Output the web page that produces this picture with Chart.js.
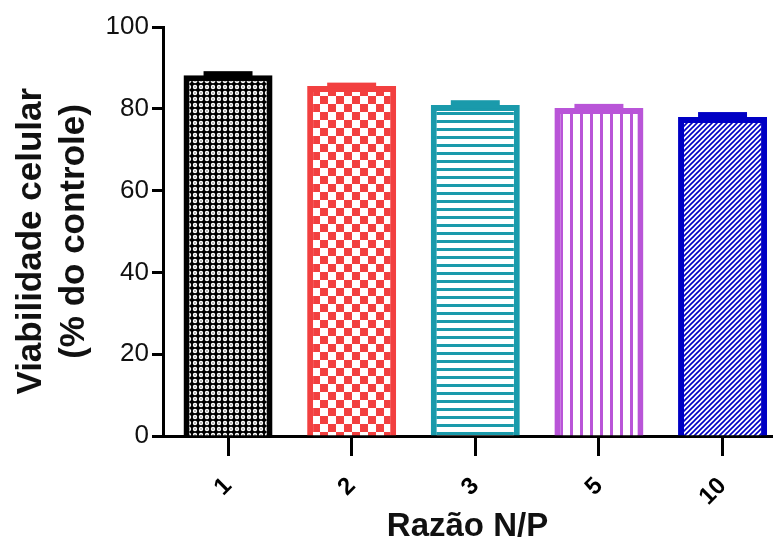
<!DOCTYPE html>
<html>
<head>
<meta charset="utf-8">
<script src="https://cdn.jsdelivr.net/npm/chart.js@4/dist/chart.umd.min.js"></script>
<style>
    body { margin: 0; background: #fff; }
    #wrap { width: 774px; height: 547px; }
</style>
</head>
<body>
<div id="wrap"><canvas id="bars" width="774" height="547"></canvas></div>
<script>
const categories = ['1', '2', '3', '5', '10']
const viability = [88.2, 85.6, 80.9, 80.2, 78.0]
const errors = [1.0, 0.8, 1.2, 1.0, 1.2]
const yTicks = [0, 20, 40, 60, 80, 100]

const colors = ['#000000', '#f24040', '#1a9aab', '#b955d8', '#0000c4']
const FONT = '"Liberation Sans", Arial, sans-serif'
const PAD = { top: 27, right: 2, bottom: 0, left: 10 }

// little tiles used as bar fills
function makePattern(kind, color) {
    const c = document.createElement('canvas')
    const ctx = c.getContext('2d')
    let s = 6
    if (kind === 'checker') s = 16
    if (kind === 'hlines') s = 8
    if (kind === 'vlines') s = 10
    if (kind === 'diag') s = 5
    c.width = s
    c.height = s
    ctx.fillStyle = '#fff'
    ctx.fillRect(0, 0, s, s)
    ctx.fillStyle = color
    ctx.strokeStyle = color
    if (kind === 'dots') {
        ctx.fillRect(0, 0, s, s)
        ctx.fillStyle = '#fff'
        ctx.beginPath()
        ctx.arc(3, 3, 2.2, 0, Math.PI * 2)
        ctx.fill()
        ctx.fillStyle = color
        ctx.fillRect(2.5, 2.5, 1, 1)
    } else if (kind === 'checker') {
        ctx.fillRect(0, 0, 8, 8)
        ctx.fillRect(8, 8, 8, 8)
    } else if (kind === 'hlines') {
        ctx.fillRect(0, 0, s, 3)
    } else if (kind === 'vlines') {
        ctx.fillRect(0, 0, 3, s)
    } else if (kind === 'diag') {
        ctx.lineWidth = 1.6
        ctx.beginPath()
        ctx.moveTo(-1, s + 1); ctx.lineTo(s + 1, -1)
        ctx.moveTo(-1, 1); ctx.lineTo(1, -1)
        ctx.moveTo(s - 1, s + 1); ctx.lineTo(s + 1, s - 1)
        ctx.stroke()
    }
    return document.createElement('canvas').getContext('2d').createPattern(c, 'repeat')
}

const kinds = ['dots', 'checker', 'hlines', 'vlines', 'diag']
const fills = kinds.map((k, i) => makePattern(k, colors[i]))

const errorBars = {
    id: 'errorBars',
    afterDatasetsDraw(chart) {
        const ctx = chart.ctx
        const y = chart.scales.y
        const meta = chart.getDatasetMeta(0)
        ctx.save()
        meta.data.forEach((bar, i) => {
            const top = y.getPixelForValue(viability[i] + errors[i])
            const base = y.getPixelForValue(viability[i])
            const w = bar.width * 0.55
            ctx.fillStyle = colors[i]
            ctx.fillRect(bar.x - w / 2, top, w, base - top + 3)
        })
        ctx.restore()
    }
}

new Chart(document.getElementById('bars'), {
    type: 'bar',
    data: {
        datasets: [{
            data: viability.map((v, i) => ({ x: i, y: v })),
            backgroundColor: fills,
            borderColor: colors,
            borderWidth: 6,
            barPercentage: 0.72,
            categoryPercentage: 1
        }]
    },
    options: {
        responsive: false,
        animation: false,
        layout: { padding: PAD },
        plugins: {
            legend: { display: false },
            tooltip: { enabled: false }
        },
        scales: {
            x: {
                type: 'linear',
                offset: false,
                min: -0.526,
                max: 4.40,
                afterBuildTicks(scale) {
                    scale.ticks = categories.map((c, i) => ({ value: i }))
                },
                afterFit(scale) {
                    scale.height = 547 - 436 - PAD.bottom
                    scale.paddingLeft = 0
                    scale.paddingRight = 0
                },
                ticks: {
                    callback: v => categories[v],
                    minRotation: 45,
                    maxRotation: 45,
                    autoSkip: false,
                    color: '#000',
                    padding: 16,
                    font: { family: FONT, size: 24, weight: 'bold' }
                },
                grid: {
                    offset: false,
                    drawOnChartArea: false,
                    tickLength: 20,
                    tickWidth: 3,
                    tickColor: '#000'
                },
                border: { color: '#000', width: 3 },
                title: {
                    display: true,
                    text: 'Razão N/P',
                    color: '#111',
                    padding: 0,
                    font: { family: FONT, size: 33, weight: 'bold' }
                }
            },
            y: {
                min: 0,
                max: 100,
                afterBuildTicks(scale) {
                    scale.ticks = yTicks.map(v => ({ value: v }))
                },
                afterFit(scale) {
                    scale.width = 163 - PAD.left
                    scale.paddingTop = 0
                    scale.paddingBottom = 0
                },
                ticks: {
                    color: '#111',
                    padding: 3,
                    font: { family: FONT, size: 26 }
                },
                grid: {
                    drawOnChartArea: false,
                    tickLength: 11,
                    tickWidth: 3,
                    tickColor: '#000'
                },
                border: { color: '#000', width: 3 },
                title: {
                    display: true,
                    text: ['Viabilidade celular  ', '(% do controle)'],
                    color: '#111',
                    padding: 0,
                    font: { family: FONT, size: 35, weight: 'bold', lineHeight: 1.22 }
                }
            }
        }
    },
    plugins: [errorBars]
});
</script>
</body>
</html>
